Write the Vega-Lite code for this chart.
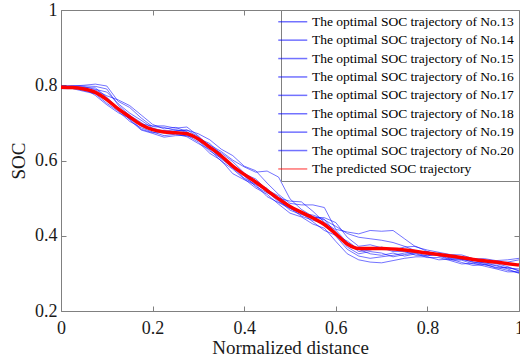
{
"$schema": "https://vega.github.io/schema/vega-lite/v6.json",
"width": 458, "height": 301,
"autosize": {"type": "none"},
"padding": {"left": 61, "top": 10, "right": 1, "bottom": 47},
"config": {
  "font": "Liberation Serif",
  "view": {"stroke": "#808080", "strokeWidth": 1},
  "axis": {"domain": false, "tickColor": "#808080", "labelColor": "#1a1a1a", "titleColor": "#1a1a1a", "labelFont": "Liberation Serif", "titleFont": "Liberation Serif", "labelFontSize": 18, "titleFontSize": 19, "titleFontWeight": "normal", "grid": false, "tickSize": -5, "labelFlush": false, "labelOverlap": false},
  "legend": {"orient": "top-right", "offset": 0, "labelFont": "Liberation Serif", "labelFontSize": 13.5, "labelColor": "#000000", "symbolType": "M-2.9,0H2.9", "symbolSize": 100, "strokeColor": "#808080", "fillColor": "white", "padding": 5, "rowPadding": 3.4, "labelLimit": 400, "labelOffset": 12.5}
},
"datasets": {
"blue": [
{"s":"13","x":0,"y":0.798},{"s":"13","x":0.025,"y":0.798},{"s":"13","x":0.05,"y":0.800},{"s":"13","x":0.075,"y":0.803},{"s":"13","x":0.1,"y":0.798},{"s":"13","x":0.125,"y":0.757},{"s":"13","x":0.15,"y":0.741},{"s":"13","x":0.175,"y":0.713},{"s":"13","x":0.2,"y":0.690},{"s":"13","x":0.225,"y":0.688},{"s":"13","x":0.25,"y":0.680},{"s":"13","x":0.275,"y":0.681},{"s":"13","x":0.3,"y":0.671},{"s":"13","x":0.325,"y":0.655},{"s":"13","x":0.35,"y":0.630},{"s":"13","x":0.375,"y":0.613},{"s":"13","x":0.4,"y":0.585},{"s":"13","x":0.425,"y":0.573},{"s":"13","x":0.45,"y":0.540},{"s":"13","x":0.475,"y":0.510},{"s":"13","x":0.5,"y":0.486},{"s":"13","x":0.525,"y":0.482},{"s":"13","x":0.55,"y":0.482},{"s":"13","x":0.575,"y":0.475},{"s":"13","x":0.6,"y":0.417},{"s":"13","x":0.625,"y":0.410},{"s":"13","x":0.65,"y":0.405},{"s":"13","x":0.675,"y":0.414},{"s":"13","x":0.7,"y":0.412},{"s":"13","x":0.725,"y":0.414},{"s":"13","x":0.75,"y":0.392},{"s":"13","x":0.775,"y":0.370},{"s":"13","x":0.8,"y":0.362},{"s":"13","x":0.825,"y":0.356},{"s":"13","x":0.85,"y":0.350},{"s":"13","x":0.875,"y":0.349},{"s":"13","x":0.9,"y":0.339},{"s":"13","x":0.925,"y":0.339},{"s":"13","x":0.95,"y":0.334},{"s":"13","x":0.975,"y":0.336},{"s":"13","x":1,"y":0.340},
{"s":"14","x":0,"y":0.793},{"s":"14","x":0.025,"y":0.796},{"s":"14","x":0.05,"y":0.796},{"s":"14","x":0.075,"y":0.789},{"s":"14","x":0.1,"y":0.782},{"s":"14","x":0.125,"y":0.751},{"s":"14","x":0.15,"y":0.726},{"s":"14","x":0.175,"y":0.707},{"s":"14","x":0.2,"y":0.686},{"s":"14","x":0.225,"y":0.678},{"s":"14","x":0.25,"y":0.682},{"s":"14","x":0.275,"y":0.675},{"s":"14","x":0.3,"y":0.657},{"s":"14","x":0.325,"y":0.641},{"s":"14","x":0.35,"y":0.624},{"s":"14","x":0.375,"y":0.601},{"s":"14","x":0.4,"y":0.583},{"s":"14","x":0.425,"y":0.569},{"s":"14","x":0.45,"y":0.572},{"s":"14","x":0.475,"y":0.556},{"s":"14","x":0.5,"y":0.498},{"s":"14","x":0.525,"y":0.470},{"s":"14","x":0.55,"y":0.451},{"s":"14","x":0.575,"y":0.442},{"s":"14","x":0.6,"y":0.425},{"s":"14","x":0.625,"y":0.406},{"s":"14","x":0.65,"y":0.396},{"s":"14","x":0.675,"y":0.392},{"s":"14","x":0.7,"y":0.388},{"s":"14","x":0.725,"y":0.382},{"s":"14","x":0.75,"y":0.372},{"s":"14","x":0.775,"y":0.360},{"s":"14","x":0.8,"y":0.350},{"s":"14","x":0.825,"y":0.348},{"s":"14","x":0.85,"y":0.338},{"s":"14","x":0.875,"y":0.337},{"s":"14","x":0.9,"y":0.331},{"s":"14","x":0.925,"y":0.323},{"s":"14","x":0.95,"y":0.322},{"s":"14","x":0.975,"y":0.314},{"s":"14","x":1,"y":0.312},
{"s":"15","x":0,"y":0.791},{"s":"15","x":0.025,"y":0.791},{"s":"15","x":0.05,"y":0.784},{"s":"15","x":0.075,"y":0.777},{"s":"15","x":0.1,"y":0.752},{"s":"15","x":0.125,"y":0.731},{"s":"15","x":0.15,"y":0.704},{"s":"15","x":0.175,"y":0.687},{"s":"15","x":0.2,"y":0.676},{"s":"15","x":0.225,"y":0.666},{"s":"15","x":0.25,"y":0.670},{"s":"15","x":0.275,"y":0.663},{"s":"15","x":0.3,"y":0.645},{"s":"15","x":0.325,"y":0.629},{"s":"15","x":0.35,"y":0.598},{"s":"15","x":0.375,"y":0.577},{"s":"15","x":0.4,"y":0.551},{"s":"15","x":0.425,"y":0.527},{"s":"15","x":0.45,"y":0.510},{"s":"15","x":0.475,"y":0.484},{"s":"15","x":0.5,"y":0.460},{"s":"15","x":0.525,"y":0.450},{"s":"15","x":0.55,"y":0.431},{"s":"15","x":0.575,"y":0.420},{"s":"15","x":0.6,"y":0.385},{"s":"15","x":0.625,"y":0.352},{"s":"15","x":0.65,"y":0.336},{"s":"15","x":0.675,"y":0.330},{"s":"15","x":0.7,"y":0.328},{"s":"15","x":0.725,"y":0.334},{"s":"15","x":0.75,"y":0.340},{"s":"15","x":0.775,"y":0.344},{"s":"15","x":0.8,"y":0.344},{"s":"15","x":0.825,"y":0.336},{"s":"15","x":0.85,"y":0.338},{"s":"15","x":0.875,"y":0.329},{"s":"15","x":0.9,"y":0.321},{"s":"15","x":0.925,"y":0.323},{"s":"15","x":0.95,"y":0.316},{"s":"15","x":0.975,"y":0.308},{"s":"15","x":1,"y":0.302},
{"s":"16","x":0,"y":0.796},{"s":"16","x":0.025,"y":0.793},{"s":"16","x":0.05,"y":0.792},{"s":"16","x":0.075,"y":0.773},{"s":"16","x":0.1,"y":0.748},{"s":"16","x":0.125,"y":0.727},{"s":"16","x":0.15,"y":0.712},{"s":"16","x":0.175,"y":0.683},{"s":"16","x":0.2,"y":0.674},{"s":"16","x":0.225,"y":0.674},{"s":"16","x":0.25,"y":0.678},{"s":"16","x":0.275,"y":0.681},{"s":"16","x":0.3,"y":0.663},{"s":"16","x":0.325,"y":0.633},{"s":"16","x":0.35,"y":0.604},{"s":"16","x":0.375,"y":0.581},{"s":"16","x":0.4,"y":0.553},{"s":"16","x":0.425,"y":0.537},{"s":"16","x":0.45,"y":0.518},{"s":"16","x":0.475,"y":0.490},{"s":"16","x":0.5,"y":0.474},{"s":"16","x":0.525,"y":0.452},{"s":"16","x":0.55,"y":0.441},{"s":"16","x":0.575,"y":0.434},{"s":"16","x":0.6,"y":0.399},{"s":"16","x":0.625,"y":0.364},{"s":"16","x":0.65,"y":0.346},{"s":"16","x":0.675,"y":0.340},{"s":"16","x":0.7,"y":0.344},{"s":"16","x":0.725,"y":0.348},{"s":"16","x":0.75,"y":0.354},{"s":"16","x":0.775,"y":0.356},{"s":"16","x":0.8,"y":0.358},{"s":"16","x":0.825,"y":0.348},{"s":"16","x":0.85,"y":0.348},{"s":"16","x":0.875,"y":0.337},{"s":"16","x":0.9,"y":0.335},{"s":"16","x":0.925,"y":0.327},{"s":"16","x":0.95,"y":0.328},{"s":"16","x":0.975,"y":0.330},{"s":"16","x":1,"y":0.336},
{"s":"17","x":0,"y":0.794},{"s":"17","x":0.025,"y":0.797},{"s":"17","x":0.05,"y":0.788},{"s":"17","x":0.075,"y":0.787},{"s":"17","x":0.1,"y":0.772},{"s":"17","x":0.125,"y":0.761},{"s":"17","x":0.15,"y":0.746},{"s":"17","x":0.175,"y":0.721},{"s":"17","x":0.2,"y":0.696},{"s":"17","x":0.225,"y":0.684},{"s":"17","x":0.25,"y":0.688},{"s":"17","x":0.275,"y":0.677},{"s":"17","x":0.3,"y":0.653},{"s":"17","x":0.325,"y":0.625},{"s":"17","x":0.35,"y":0.606},{"s":"17","x":0.375,"y":0.587},{"s":"17","x":0.4,"y":0.559},{"s":"17","x":0.425,"y":0.531},{"s":"17","x":0.45,"y":0.514},{"s":"17","x":0.475,"y":0.500},{"s":"17","x":0.5,"y":0.492},{"s":"17","x":0.525,"y":0.490},{"s":"17","x":0.55,"y":0.465},{"s":"17","x":0.575,"y":0.436},{"s":"17","x":0.6,"y":0.415},{"s":"17","x":0.625,"y":0.382},{"s":"17","x":0.65,"y":0.358},{"s":"17","x":0.675,"y":0.362},{"s":"17","x":0.7,"y":0.370},{"s":"17","x":0.725,"y":0.362},{"s":"17","x":0.75,"y":0.370},{"s":"17","x":0.775,"y":0.372},{"s":"17","x":0.8,"y":0.358},{"s":"17","x":0.825,"y":0.346},{"s":"17","x":0.85,"y":0.336},{"s":"17","x":0.875,"y":0.335},{"s":"17","x":0.9,"y":0.325},{"s":"17","x":0.925,"y":0.325},{"s":"17","x":0.95,"y":0.314},{"s":"17","x":0.975,"y":0.316},{"s":"17","x":1,"y":0.308},
{"s":"18","x":0,"y":0.797},{"s":"18","x":0.025,"y":0.794},{"s":"18","x":0.05,"y":0.786},{"s":"18","x":0.075,"y":0.779},{"s":"18","x":0.1,"y":0.766},{"s":"18","x":0.125,"y":0.735},{"s":"18","x":0.15,"y":0.710},{"s":"18","x":0.175,"y":0.697},{"s":"18","x":0.2,"y":0.692},{"s":"18","x":0.225,"y":0.692},{"s":"18","x":0.25,"y":0.686},{"s":"18","x":0.275,"y":0.689},{"s":"18","x":0.3,"y":0.665},{"s":"18","x":0.325,"y":0.637},{"s":"18","x":0.35,"y":0.620},{"s":"18","x":0.375,"y":0.597},{"s":"18","x":0.4,"y":0.567},{"s":"18","x":0.425,"y":0.541},{"s":"18","x":0.45,"y":0.526},{"s":"18","x":0.475,"y":0.494},{"s":"18","x":0.5,"y":0.468},{"s":"18","x":0.525,"y":0.456},{"s":"18","x":0.55,"y":0.449},{"s":"18","x":0.575,"y":0.448},{"s":"18","x":0.6,"y":0.435},{"s":"18","x":0.625,"y":0.396},{"s":"18","x":0.65,"y":0.372},{"s":"18","x":0.675,"y":0.376},{"s":"18","x":0.7,"y":0.368},{"s":"18","x":0.725,"y":0.358},{"s":"18","x":0.75,"y":0.358},{"s":"18","x":0.775,"y":0.348},{"s":"18","x":0.8,"y":0.348},{"s":"18","x":0.825,"y":0.350},{"s":"18","x":0.85,"y":0.342},{"s":"18","x":0.875,"y":0.343},{"s":"18","x":0.9,"y":0.335},{"s":"18","x":0.925,"y":0.335},{"s":"18","x":0.95,"y":0.326},{"s":"18","x":0.975,"y":0.318},{"s":"18","x":1,"y":0.306},
{"s":"19","x":0,"y":0.795},{"s":"19","x":0.025,"y":0.792},{"s":"19","x":0.05,"y":0.794},{"s":"19","x":0.075,"y":0.793},{"s":"19","x":0.1,"y":0.768},{"s":"19","x":0.125,"y":0.739},{"s":"19","x":0.15,"y":0.708},{"s":"19","x":0.175,"y":0.681},{"s":"19","x":0.2,"y":0.672},{"s":"19","x":0.225,"y":0.662},{"s":"19","x":0.25,"y":0.666},{"s":"19","x":0.275,"y":0.667},{"s":"19","x":0.3,"y":0.649},{"s":"19","x":0.325,"y":0.619},{"s":"19","x":0.35,"y":0.600},{"s":"19","x":0.375,"y":0.565},{"s":"19","x":0.4,"y":0.549},{"s":"19","x":0.425,"y":0.535},{"s":"19","x":0.45,"y":0.504},{"s":"19","x":0.475,"y":0.488},{"s":"19","x":0.5,"y":0.472},{"s":"19","x":0.525,"y":0.460},{"s":"19","x":0.55,"y":0.437},{"s":"19","x":0.575,"y":0.414},{"s":"19","x":0.6,"y":0.401},{"s":"19","x":0.625,"y":0.386},{"s":"19","x":0.65,"y":0.364},{"s":"19","x":0.675,"y":0.352},{"s":"19","x":0.7,"y":0.348},{"s":"19","x":0.725,"y":0.354},{"s":"19","x":0.75,"y":0.346},{"s":"19","x":0.775,"y":0.352},{"s":"19","x":0.8,"y":0.342},{"s":"19","x":0.825,"y":0.342},{"s":"19","x":0.85,"y":0.334},{"s":"19","x":0.875,"y":0.325},{"s":"19","x":0.9,"y":0.327},{"s":"19","x":0.925,"y":0.319},{"s":"19","x":0.95,"y":0.312},{"s":"19","x":0.975,"y":0.304},{"s":"19","x":1,"y":0.304},
{"s":"20","x":0,"y":0.797},{"s":"20","x":0.025,"y":0.799},{"s":"20","x":0.05,"y":0.798},{"s":"20","x":0.075,"y":0.797},{"s":"20","x":0.1,"y":0.790},{"s":"20","x":0.125,"y":0.747},{"s":"20","x":0.15,"y":0.720},{"s":"20","x":0.175,"y":0.701},{"s":"20","x":0.2,"y":0.680},{"s":"20","x":0.225,"y":0.680},{"s":"20","x":0.25,"y":0.672},{"s":"20","x":0.275,"y":0.665},{"s":"20","x":0.3,"y":0.659},{"s":"20","x":0.325,"y":0.645},{"s":"20","x":0.35,"y":0.616},{"s":"20","x":0.375,"y":0.579},{"s":"20","x":0.4,"y":0.565},{"s":"20","x":0.425,"y":0.551},{"s":"20","x":0.45,"y":0.522},{"s":"20","x":0.475,"y":0.506},{"s":"20","x":0.5,"y":0.480},{"s":"20","x":0.525,"y":0.458},{"s":"20","x":0.55,"y":0.455},{"s":"20","x":0.575,"y":0.444},{"s":"20","x":0.6,"y":0.407},{"s":"20","x":0.625,"y":0.370},{"s":"20","x":0.65,"y":0.352},{"s":"20","x":0.675,"y":0.358},{"s":"20","x":0.7,"y":0.354},{"s":"20","x":0.725,"y":0.344},{"s":"20","x":0.75,"y":0.350},{"s":"20","x":0.775,"y":0.354},{"s":"20","x":0.8,"y":0.346},{"s":"20","x":0.825,"y":0.354},{"s":"20","x":0.85,"y":0.340},{"s":"20","x":0.875,"y":0.339},{"s":"20","x":0.9,"y":0.329},{"s":"20","x":0.925,"y":0.329},{"s":"20","x":0.95,"y":0.320},{"s":"20","x":0.975,"y":0.312},{"s":"20","x":1,"y":0.300}
],
"red": [
{"s":"P","x":0,"y":0.795},{"s":"P","x":0.025,"y":0.794},{"s":"P","x":0.05,"y":0.790},{"s":"P","x":0.075,"y":0.781},{"s":"P","x":0.1,"y":0.762},{"s":"P","x":0.125,"y":0.737},{"s":"P","x":0.15,"y":0.716},{"s":"P","x":0.175,"y":0.695},{"s":"P","x":0.2,"y":0.682},{"s":"P","x":0.225,"y":0.676},{"s":"P","x":0.25,"y":0.674},{"s":"P","x":0.275,"y":0.671},{"s":"P","x":0.3,"y":0.657},{"s":"P","x":0.325,"y":0.635},{"s":"P","x":0.35,"y":0.612},{"s":"P","x":0.375,"y":0.585},{"s":"P","x":0.4,"y":0.563},{"s":"P","x":0.425,"y":0.543},{"s":"P","x":0.45,"y":0.520},{"s":"P","x":0.475,"y":0.498},{"s":"P","x":0.5,"y":0.478},{"s":"P","x":0.525,"y":0.462},{"s":"P","x":0.55,"y":0.447},{"s":"P","x":0.575,"y":0.430},{"s":"P","x":0.6,"y":0.405},{"s":"P","x":0.625,"y":0.378},{"s":"P","x":0.65,"y":0.366},{"s":"P","x":0.7,"y":0.366},{"s":"P","x":0.75,"y":0.362},{"s":"P","x":0.8,"y":0.354},{"s":"P","x":0.85,"y":0.346},{"s":"P","x":0.9,"y":0.337},{"s":"P","x":0.95,"y":0.330},{"s":"P","x":1,"y":0.322}
]
},
"layer": [
{
 "data": {"name": "blue"},
 "mark": {"type": "line", "opacity": 0.55, "strokeWidth": 1},
 "encoding": {
  "x": {"field": "x", "type": "quantitative", "scale": {"domain": [0, 1], "nice": false}, "axis": {"values": [0, 0.2, 0.4, 0.6, 0.8, 1], "format": "~g", "title": "Normalized distance", "labelPadding": 13, "titlePadding": 1}},
  "y": {"field": "y", "type": "quantitative", "scale": {"domain": [0.2, 1], "nice": false, "zero": false}, "axis": {"values": [0.2, 0.4, 0.6, 0.8, 1], "format": "~g", "title": "SOC", "labelPadding": 9, "titlePadding": 6}},
  "color": {"field": "s", "type": "nominal", "scale": {"domain": ["13","14","15","16","17","18","19","20","P"], "range": ["#0000ff","#0000ff","#0000ff","#0000ff","#0000ff","#0000ff","#0000ff","#0000ff","#ff0000"]}, "legend": {"title": null, "labelExpr": "datum.label == 'P' ? 'The predicted SOC trajectory' : 'The optimal SOC trajectory of No.' + datum.label", "encode": {"symbols": {"strokeWidth": {"signal": "datum.value == 'P' ? 3.5 : 1"}, "opacity": {"signal": "datum.value == 'P' ? 1 : 0.5"}, "strokeOpacity": {"signal": "datum.value == 'P' ? 1 : 0.7"}}}}}
 }
},
{
 "data": {"name": "red"},
 "mark": {"type": "line", "interpolate": "monotone", "color": "#ff0000", "strokeWidth": 3.5},
 "encoding": {
  "x": {"field": "x", "type": "quantitative", "scale": {"domain": [0, 1], "nice": false}, "axis": {"orient": "top", "values": [0, 0.2, 0.4, 0.6, 0.8, 1], "labels": false, "title": null}},
  "y": {"field": "y", "type": "quantitative", "scale": {"domain": [0.2, 1], "nice": false, "zero": false}, "axis": {"orient": "right", "values": [0.2, 0.4, 0.6, 0.8, 1], "labels": false, "title": null}}
 }
}
],
"resolve": {"axis": {"x": "independent", "y": "independent"}}
}
